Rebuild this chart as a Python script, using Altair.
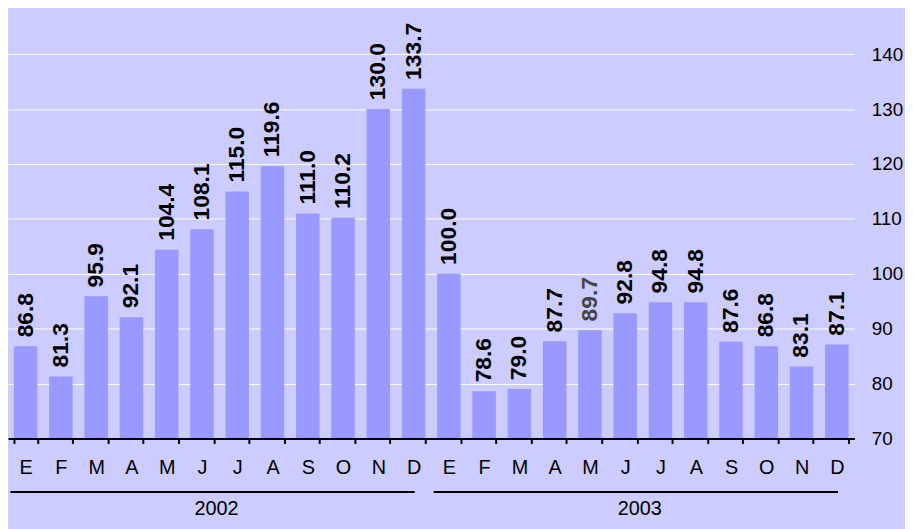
import altair as alt
import pandas as pd

# ---- data ----
years = ["2002"] * 12 + ["2003"] * 12
months = ["E", "F", "M", "A", "M", "J", "J", "A", "S", "O", "N", "D"] * 2
values = [86.8, 81.3, 95.9, 92.1, 104.4, 108.1, 115.0, 119.6, 111.0, 110.2, 130.0, 133.7,
          100.0, 78.6, 79.0, 87.7, 89.7, 92.8, 94.8, 94.8, 87.6, 86.8, 83.1, 87.1]
y_ticks = [70, 80, 90, 100, 110, 120, 130, 140]
year_labels = ["2002", "2003"]

keys = [f"{y}|{i:02d}|{m}" for i, (y, m) in enumerate(zip(years, months))]
df = pd.DataFrame({"key": keys, "value": values})

yr = pd.DataFrame({
    "year": year_labels,
    "start": [keys[years.index(y)] for y in year_labels],
    "mid": [keys[years.index(y) + 6] for y in year_labels],
    "end": [keys[years.index(y) + 11] for y in year_labels],
})
grey_key = keys[16]  # May 2003 label drawn in grey in the reference

FONT = "Liberation Sans"
xscale = alt.Scale(domain=keys, paddingInner=0.334, paddingOuter=0.167)
xaxis = alt.Axis(title=None, labelExpr="split(datum.value, '|')[2]", labelAngle=0,
                 tickBand="extent", domainColor="black", domainWidth=2,
                 tickColor="black", tickWidth=2, tickSize=5,
                 labelFontSize=20, labelFont=FONT, labelColor="black",
                 labelPadding=14, grid=False, zindex=1)
yscale = alt.Scale(domain=[70, 148.0], nice=False, zero=False)
yaxis = alt.Axis(orient="right", values=y_ticks, title=None, ticks=False, domain=False,
                 grid=True, gridColor="white", gridWidth=1,
                 labelFontSize=19, labelFont=FONT, labelColor="black", labelPadding=17)


def X(field, **kw):
    return alt.X(f"{field}:N", scale=xscale, axis=xaxis, sort=keys, **kw)


bars = alt.Chart(df).mark_bar(color="#9999FF", clip=True).encode(
    x=X("key"),
    y=alt.Y("value:Q", scale=yscale, axis=yaxis),
)

labels = alt.Chart(df).mark_text(
    angle=270, align="left", baseline="middle", dx=9,
    fontSize=23, fontWeight="bold", font=FONT,
).encode(
    x=X("key"),
    y=alt.Y("value:Q", scale=yscale, axis=yaxis),
    text=alt.Text("value:Q", format=".1f"),
    color=alt.condition(alt.datum.key == grey_key, alt.value("#444444"), alt.value("black")),
)

year_rules = alt.Chart(yr).mark_rule(color="black", strokeWidth=2, xOffset=-3.5, x2Offset=13).encode(
    x=X("start", bandPosition=0),
    x2=alt.X2("end:N", bandPosition=0),
    y=alt.value(486),
)

year_text = alt.Chart(yr).mark_text(fontSize=20, font=FONT, color="black",
                                    align="center", baseline="middle", dx=-9).encode(
    x=X("mid", bandPosition=0),
    y=alt.value(503.5),
    text="year:N",
)

chart = alt.layer(bars, labels, year_rules, year_text).properties(
    width=854, height=432,
    autosize=alt.AutoSizeParams(type="none"),
    padding={"left": 0, "top": 0, "right": 51, "bottom": 89},
    background="#CCCCFF",
).configure_view(stroke=None)

chart.save("out.html", embed_options={"renderer": "svg", "actions": False})
